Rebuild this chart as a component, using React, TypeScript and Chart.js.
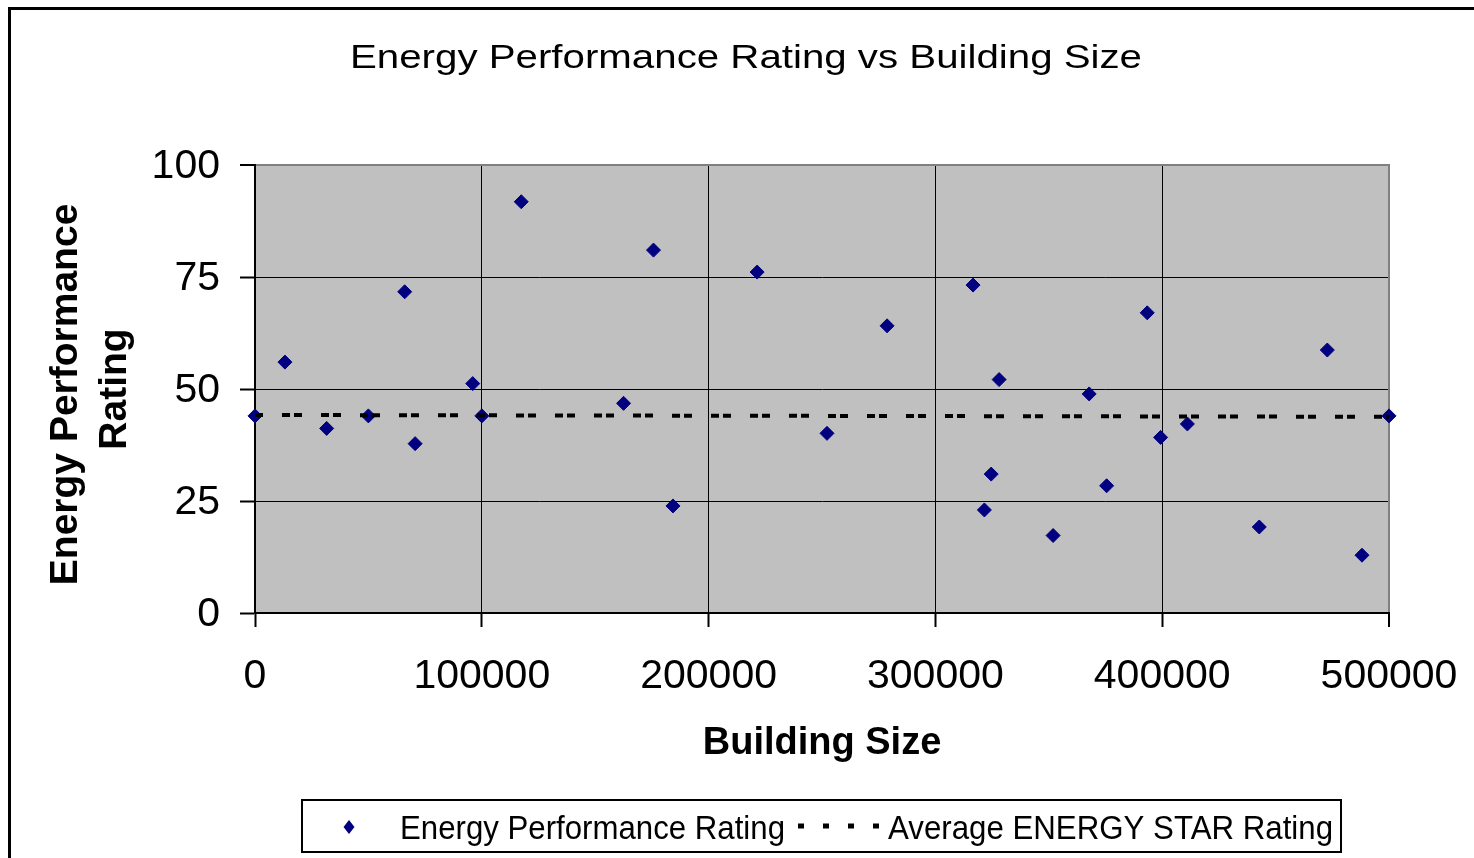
import React, { useEffect, useRef } from 'react';
import { Chart, registerables } from 'chart.js';

Chart.register(...registerables);

const FONT = '"Liberation Sans", Arial, Helvetica, sans-serif';

const chartTitle = 'Energy Performance Rating vs Building Size';
const xAxisTitle = 'Building Size';
const yAxisTitle = ['Energy Performance ', 'Rating'];
const seriesName = 'Energy Performance Rating';
const averageName = 'Average ENERGY STAR Rating';

const buildingSizes = [
  0, 13200, 31600, 50000, 66000, 70600, 96000, 100000, 117400, 162500,
  175700, 184300, 221400, 252200, 278700, 316600, 321600, 324600, 328100, 351900,
  367800, 375500, 393400, 399300, 411100, 442800, 472800, 488100, 500000,
];
const ratings = [
  44, 56, 41.2, 44, 71.7, 37.8, 51.2, 44, 91.8, 46.8,
  81, 23.9, 76.1, 40.1, 64.1, 73.2, 23, 31, 52.1, 17.3,
  48.9, 28.4, 67, 39.2, 42.2, 19.2, 58.7, 12.9, 44,
];
const averageX = [0, 500000];
const averageY = [44.2, 43.8];

const xMin = 0;
const xMax = 500000;
const xStep = 100000;
const yMin = 0;
const yMax = 100;
const yStep = 25;

const NAVY = '#000080';
const PLOT_BG = '#C0C0C0';
const PLOT_EDGE = '#808080';

function fitText(ctx: CanvasRenderingContext2D, text: string, x: number, baseline: number, px: number, targetW: number) {
  ctx.save();
  ctx.font = `${px}px ${FONT}`;
  ctx.textAlign = 'left';
  ctx.textBaseline = 'alphabetic';
  const w = ctx.measureText(text).width;
  const sx = targetW / w;
  ctx.translate(x, baseline);
  ctx.scale(sx, 1);
  ctx.fillText(text, 0, 0);
  ctx.restore();
}

const decorPlugin = {
  id: 'decor',
  beforeDraw(chart: any) {
    const { ctx, chartArea: a, width, height } = chart;
    ctx.save();
    ctx.fillStyle = '#ffffff';
    ctx.fillRect(0, 0, width, height);
    ctx.fillStyle = PLOT_BG;
    ctx.fillRect(a.left, a.top, a.right - a.left, a.bottom - a.top);
    // outer frame
    ctx.strokeStyle = '#000';
    ctx.lineWidth = 3;
    ctx.strokeRect(9.5, 8.5, width + 40, height + 40);
    // title
    ctx.fillStyle = '#000';
    fitText(ctx, chartTitle, 350, 68, 34, 792);
    ctx.restore();
  },
  beforeDatasetsDraw(chart: any) {
    const { ctx, chartArea: a } = chart;
    ctx.save();
    ctx.strokeStyle = PLOT_EDGE;
    ctx.lineWidth = 2;
    ctx.beginPath();
    ctx.moveTo(a.left + 1, a.top);
    ctx.lineTo(a.right, a.top);
    ctx.lineTo(a.right, a.bottom - 1);
    ctx.stroke();
    ctx.restore();
  },
  afterDraw(chart: any) {
    const { ctx } = chart;
    ctx.save();
    // legend box
    ctx.fillStyle = '#fff';
    ctx.fillRect(301, 799, 1041, 54);
    ctx.strokeStyle = '#000';
    ctx.lineWidth = 2;
    ctx.strokeRect(302, 800, 1039, 52);
    // diamond marker
    const cx = 349;
    const cy = 827;
    ctx.fillStyle = NAVY;
    ctx.beginPath();
    ctx.moveTo(cx, cy - 7);
    ctx.lineTo(cx + 5.5, cy);
    ctx.lineTo(cx, cy + 7);
    ctx.lineTo(cx - 5.5, cy);
    ctx.closePath();
    ctx.fill();
    // texts
    ctx.fillStyle = '#000';
    fitText(ctx, seriesName, 400, 839, 33, 385);
    fitText(ctx, averageName, 888, 839, 33, 445);
    // dashed sample
    ctx.strokeStyle = '#000';
    ctx.lineWidth = 5;
    ctx.setLineDash([6, 19]);
    ctx.beginPath();
    ctx.moveTo(798, 826);
    ctx.lineTo(880, 826);
    ctx.stroke();
    ctx.restore();
  },
};

export default function App() {
  const canvasRef = useRef<HTMLCanvasElement | null>(null);

  useEffect(() => {
    const canvas = canvasRef.current;
    if (!canvas) return;
    const scatterData = buildingSizes.map((x, i) => ({ x, y: ratings[i] }));
    const avgData = averageX.map((x, i) => ({ x, y: averageY[i] }));

    const chart = new Chart(canvas, {
      type: 'scatter',
      data: {
        datasets: [
          {
            type: 'line',
            label: averageName,
            data: avgData,
            borderColor: '#000',
            borderWidth: 4,
            borderDash: [8, 4, 8, 19],
            borderDashOffset: 12,
            pointRadius: 0,
            fill: false,
            order: 0,
            clip: false,
          } as any,
          {
            type: 'scatter',
            label: seriesName,
            data: scatterData,
            pointStyle: 'rectRot',
            pointRadius: 7,
            pointBackgroundColor: NAVY,
            pointBorderColor: NAVY,
            pointBorderWidth: 1,
            order: 1,
            clip: false,
          } as any,
        ],
      },
      options: {
        responsive: false,
        animation: false,
        events: [],
        layout: { padding: { top: 165, right: 85, bottom: 85, left: 0 } },
        plugins: {
          legend: { display: false },
          title: { display: false },
          tooltip: { enabled: false },
        },
        scales: {
          x: {
            type: 'linear',
            min: xMin,
            max: xMax,
            ticks: {
              stepSize: xStep,
              callback: (v: any) => String(v),
              font: { family: FONT, size: 41 },
              color: '#000',
              padding: 25,
              maxRotation: 0,
              autoSkip: false,
            },
            grid: {
              color: (c: any) => (c.tick && c.tick.value === xMax ? PLOT_EDGE : '#000'),
              lineWidth: (c: any) => (c.tick && c.tick.value === xMax ? 2 : 1),
              tickColor: '#000',
              tickLength: 14,
              tickWidth: 2,
            },
            border: { color: '#000', width: 2 },
            title: {
              display: true,
              text: xAxisTitle,
              color: '#000',
              font: { family: FONT, size: 38, weight: 'bold' },
              padding: { top: 0, bottom: 7 },
            },
            afterFit: (s: any) => {
              s.height = 160;
              s.paddingLeft = 0;
              s.paddingRight = 0;
            },
          } as any,
          y: {
            type: 'linear',
            min: yMin,
            max: yMax,
            ticks: {
              stepSize: yStep,
              callback: (v: any) => String(v),
              font: { family: FONT, size: 41 },
              color: '#000',
              padding: 20,
              labelOffset: 2,
            },
            grid: {
              color: (c: any) => (c.tick && c.tick.value === yMax ? PLOT_EDGE : '#000'),
              lineWidth: (c: any) => (c.tick && c.tick.value === yMax ? 2 : 1),
              tickColor: '#000',
              tickLength: 15,
              tickWidth: 2,
            },
            border: { color: '#000', width: 2 },
            title: {
              display: true,
              text: yAxisTitle,
              color: '#000',
              font: { family: FONT, size: 39, weight: 'bold', lineHeight: 1.27 },
              padding: { top: 41, bottom: 0 },
            },
            afterFit: (s: any) => {
              s.width = 255;
              s.paddingTop = 0;
              s.paddingBottom = 0;
            },
          } as any,
        },
      },
      plugins: [decorPlugin],
    });
    return () => chart.destroy();
  }, []);

  return (
    <div style={{ position: 'fixed', left: 0, top: 0, width: 1474, height: 858, overflow: 'hidden', background: '#fff' }}>
      <canvas ref={canvasRef} width={1474} height={858} style={{ display: 'block' }} />
    </div>
  );
}
